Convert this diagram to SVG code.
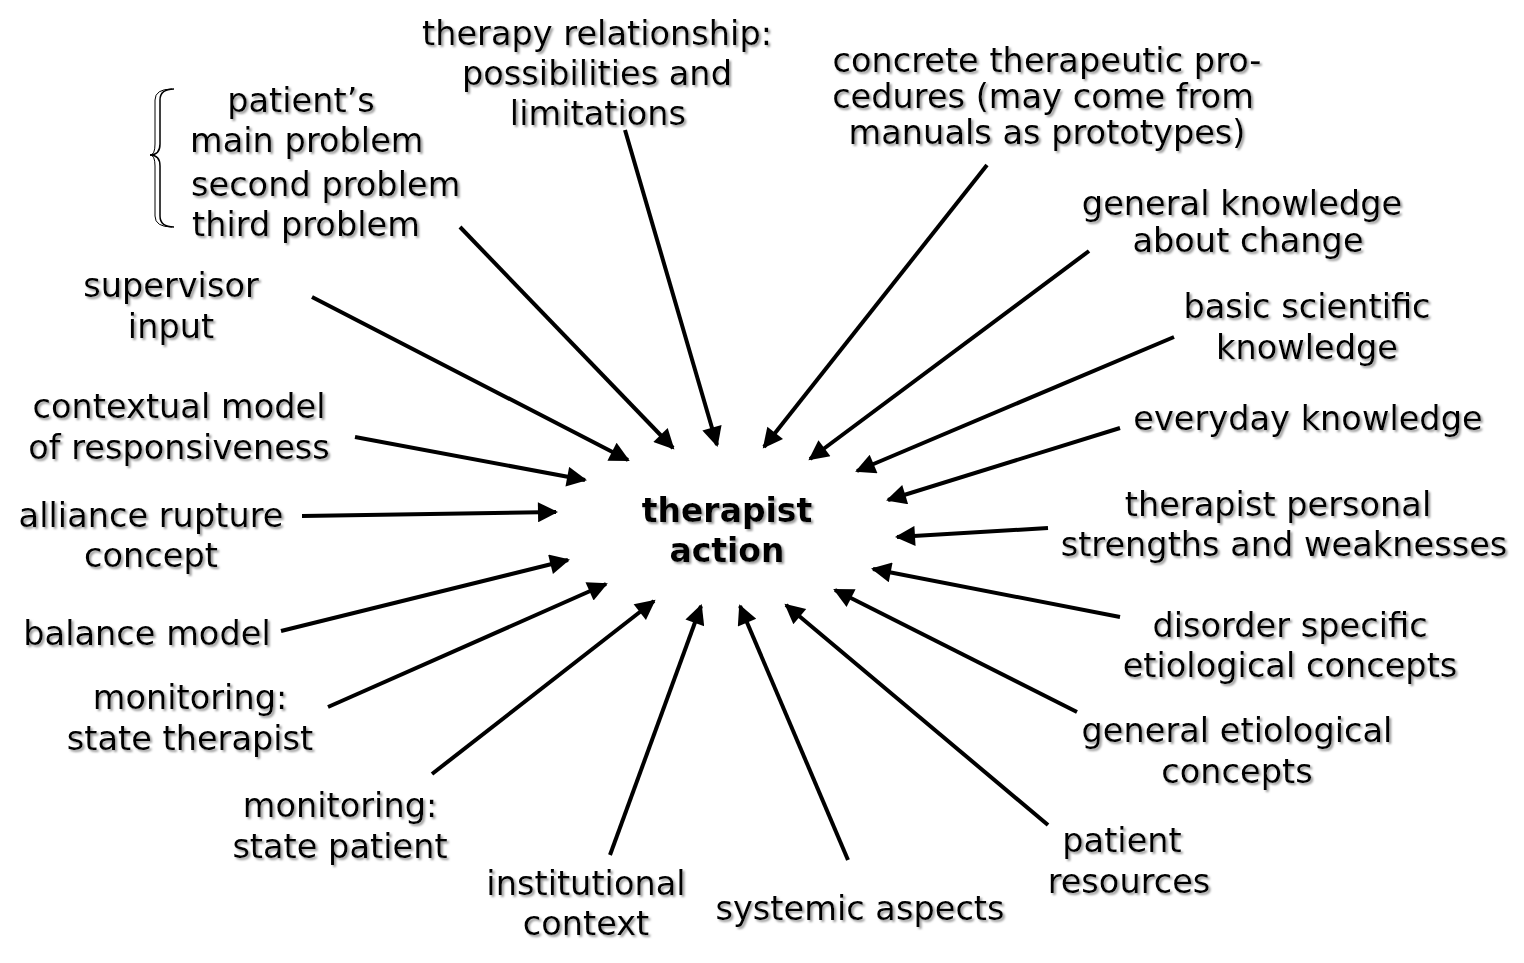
<svg xmlns="http://www.w3.org/2000/svg" width="1524" height="963" viewBox="0 0 1524 963">
<defs>
<style>
text{font-family:"DejaVu Sans","Verdana",sans-serif;font-size:33.6px;fill:#000;text-anchor:middle;filter:url(#sh)}
.b{font-weight:bold;font-size:33px}
.l{text-anchor:start}
.c line{stroke:#000;stroke-width:4;marker-end:url(#ah)}
</style>
<filter id="sh" x="-10%" y="-30%" width="120%" height="160%">
<feDropShadow dx="2" dy="2" stdDeviation="0.8" flood-color="#9a9a9a" flood-opacity="1"/>
</filter>
<marker id="ah" viewBox="0 0 10 10" refX="9" refY="5" markerWidth="6.2" markerHeight="5" markerUnits="strokeWidth" orient="auto">
<path d="M0,0 L10,5 L0,10 z" fill="#000"/>
</marker>
</defs>
<rect width="1524" height="963" fill="#fff"/>
<g class="c" id="connectors">
<line x1="625" y1="130" x2="717" y2="445"/>
<line x1="460" y1="227" x2="673" y2="448"/>
<line x1="312" y1="297" x2="628" y2="460"/>
<line x1="355" y1="437" x2="585" y2="480"/>
<line x1="302" y1="516" x2="556" y2="512"/>
<line x1="281" y1="631" x2="568" y2="560"/>
<line x1="328" y1="707" x2="606" y2="584"/>
<line x1="432" y1="774" x2="654" y2="601"/>
<line x1="610" y1="855" x2="701" y2="606"/>
<line x1="848" y1="860" x2="740" y2="606"/>
<line x1="1048" y1="825" x2="786" y2="605"/>
<line x1="1077" y1="712" x2="835" y2="590"/>
<line x1="1120" y1="617" x2="873" y2="569"/>
<line x1="1048" y1="528" x2="897" y2="537"/>
<line x1="1120" y1="428" x2="888" y2="500"/>
<line x1="1174" y1="337" x2="857" y2="471"/>
<line x1="1089" y1="251" x2="810" y2="459"/>
<line x1="987" y1="165" x2="764" y2="447"/>
</g>
<g id="center"><text class="b" x="727" y="522">therapist</text><text class="b" x="727" y="562">action</text></g>
<g id="n-relationship"><text x="597" y="45">therapy relationship:</text><text x="597" y="85">possibilities and</text><text x="598" y="125">limitations</text></g>
<g id="n-concrete"><text x="1047" y="72">concrete therapeutic pro-</text><text x="1043" y="108">cedures (may come from</text><text x="1047" y="144">manuals as prototypes)</text></g>
<g id="n-generalknowledge"><text x="1242" y="215">general knowledge</text><text x="1248" y="252">about change</text></g>
<g id="n-basic"><text x="1307" y="318">basic scientific</text><text x="1307" y="359">knowledge</text></g>
<g id="n-everyday"><text x="1308" y="430">everyday knowledge</text></g>
<g id="n-personal"><text x="1278" y="516">therapist personal</text><text x="1284" y="556">strengths and weaknesses</text></g>
<g id="n-disorder"><text x="1290" y="637">disorder specific</text><text x="1290" y="677">etiological concepts</text></g>
<g id="n-generaletio"><text x="1237" y="742">general etiological</text><text x="1237" y="783">concepts</text></g>
<g id="n-resources"><text x="1122" y="852">patient</text><text x="1129" y="893">resources</text></g>
<g id="n-systemic"><text x="860" y="920">systemic aspects</text></g>
<g id="n-institutional"><text x="586" y="895">institutional</text><text x="586" y="935">context</text></g>
<g id="n-monpatient"><text x="340" y="817">monitoring:</text><text x="340" y="858">state patient</text></g>
<g id="n-montherapist"><text x="190" y="709">monitoring:</text><text x="190" y="750">state therapist</text></g>
<g id="n-balance"><text x="147" y="645">balance model</text></g>
<g id="n-alliance"><text x="151" y="527">alliance rupture</text><text x="151" y="567">concept</text></g>
<g id="n-contextual"><text x="179" y="418">contextual model</text><text x="179" y="459">of responsiveness</text></g>
<g id="n-supervisor"><text x="171" y="297">supervisor</text><text x="171" y="338">input</text></g>
<g id="n-problems">
<path d="M174,89 Q160,89 160,100 L160,144 Q160,155 150,155 Q160,155 160,166 L160,216 Q160,227 174,227" fill="none" stroke="#000" stroke-width="1.5"/>
<path d="M172,89 Q155,89 155,100 L155,144 Q155,155 150,155 M150,155 Q155,155 155,166 L155,216 Q155,227 172,227" fill="none" stroke="#000" stroke-width="1"/>
<text x="301" y="112">patient’s</text>
<text class="l" x="190" y="152">main problem</text>
<text class="l" x="191" y="196">second problem</text>
<text class="l" x="192" y="236">third problem</text>
</g>
</svg>
